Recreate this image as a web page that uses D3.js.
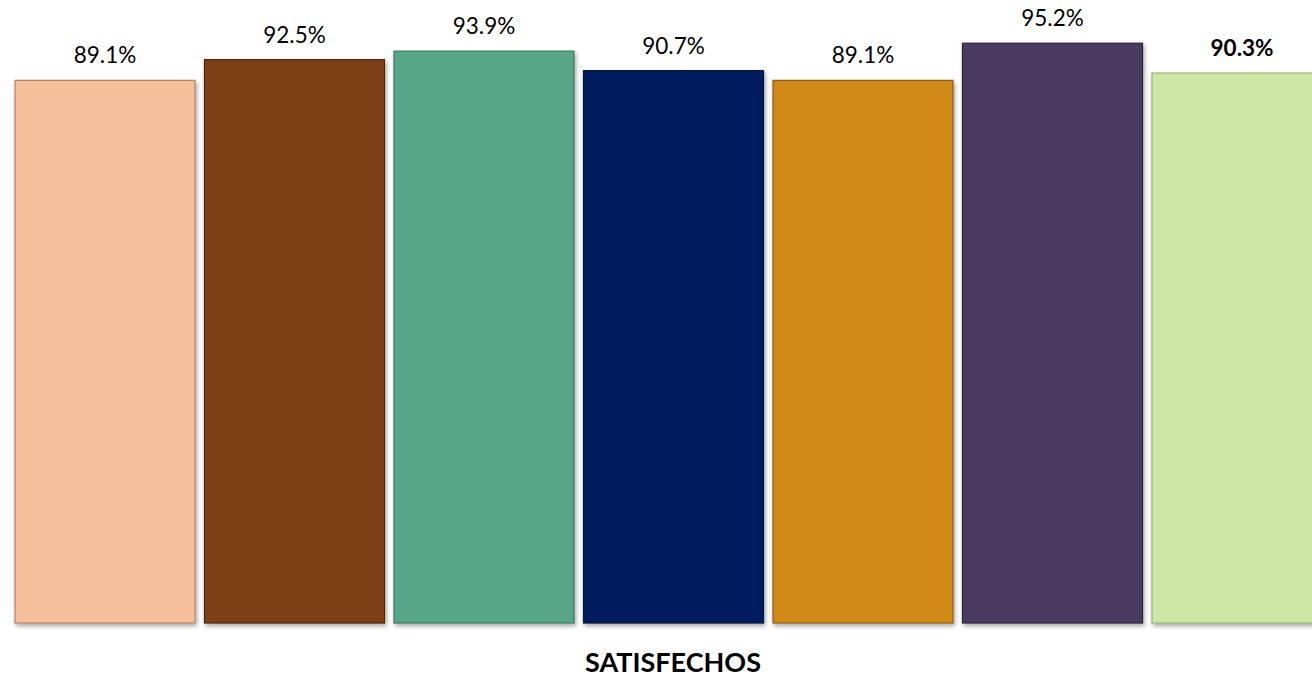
<!DOCTYPE html>
<html><head><meta charset="utf-8">
<script src="https://cdn.jsdelivr.net/npm/d3@7"></script>
<style>html,body{margin:0;padding:0;background:#fff;overflow:hidden}</style>
</head><body>
<svg id="chart" width="1312" height="678"></svg>
<script>
const categories = ["A","B","C","D","E","F","G"];
const values = [89.1, 92.5, 93.9, 90.7, 89.1, 95.2, 90.3];
const labels = ["89.1%","92.5%","93.9%","90.7%","89.1%","95.2%","90.3%"];
const colors = ["#F4BF9A","#7E4119","#58A68A","#001F5E","#D08819","#4A3A61","#CDE6A3"];
const strokes = ["#B08468","#4A2509","#3A7A63","#00133A","#8E5C0E","#2B2039","#98B07A"];
const axisTitle = "SATISFECHOS";

const svg = d3.select("#chart");
const defs = svg.append("defs");
const f = defs.append("filter").attr("id","sh").attr("x","-10%").attr("y","-10%").attr("width","120%").attr("height","120%");
f.append("feDropShadow").attr("dx",1.5).attr("dy",2.5).attr("stdDeviation",2).attr("flood-color","#000").attr("flood-opacity",0.35);

const x = d3.scaleBand().domain(categories).range([10.25, 1336.75]).paddingInner(0.05).paddingOuter(0.025);
const y = d3.scaleLinear().domain([0, 100]).range([623, 14]);

svg.selectAll("rect.bar").data(values).join("rect")
  .attr("class","bar")
  .attr("x",(d,i)=>x(categories[i]))
  .attr("y",d=>y(d))
  .attr("width",x.bandwidth())
  .attr("height",d=>y(0)-y(d))
  .attr("fill",(d,i)=>colors[i])
  .attr("stroke",(d,i)=>strokes[i])
  .attr("stroke-width",1.2)
  .attr("filter","url(#sh)");

svg.selectAll("text.lbl").data(values).join("text")
  .attr("class","lbl")
  .attr("x",(d,i)=>x(categories[i])+x.bandwidth()/2)
  .attr("y",d=>y(d)-17)
  .attr("text-anchor","middle")
  .attr("font-family","Lato, 'Open Sans', sans-serif")
  .attr("font-size",22.5)
  .attr("font-weight",(d,i)=>i===values.length-1?"bold":"normal")
  .attr("fill","#000")
  .text((d,i)=>labels[i]);

svg.append("text")
  .attr("x",673).attr("y",672)
  .attr("text-anchor","middle")
  .attr("font-family","Lato, 'Open Sans', sans-serif")
  .attr("font-size",27)
  .attr("font-weight","bold")
  .attr("fill","#000")
  .text(axisTitle);
</script>
</body></html>
